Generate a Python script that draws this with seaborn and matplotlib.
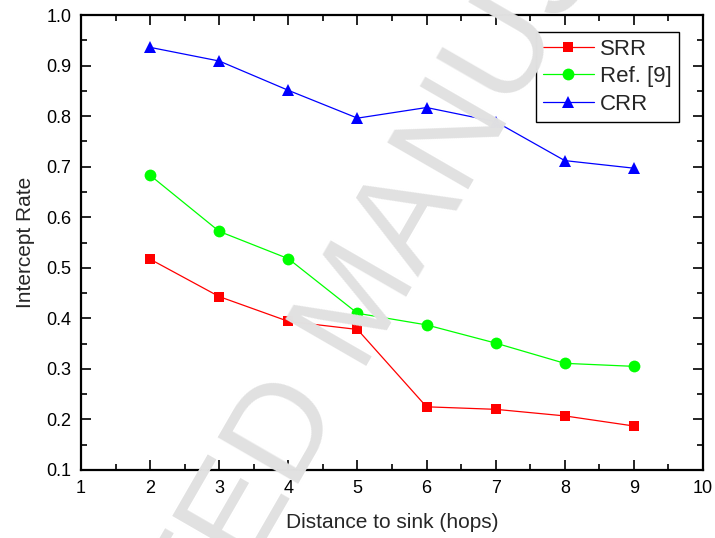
"""
Intercept rate vs. distance to sink for SRR, Ref. [9] and CRR.
"""

import pandas as pd
import matplotlib
matplotlib.use("Agg")
import matplotlib.pyplot as plt
from matplotlib.ticker import MultipleLocator
import seaborn as sns

hops = [2, 3, 4, 5, 6, 7, 8, 9]
srr = [0.517, 0.443, 0.394, 0.378, 0.225, 0.220, 0.207, 0.187]
ref9 = [0.683, 0.572, 0.518, 0.410, 0.387, 0.351, 0.311, 0.305]
crr = [0.936, 0.909, 0.851, 0.796, 0.817, 0.789, 0.712, 0.697]

series_names = ["SRR", "Ref. [9]", "CRR"]
series_values = [srr, ref9, crr]
series_colors = ["#ff0000", "#00ff00", "#0000ff"]
series_markers = ["s", "o", "^"]
series_sizes = [7.5, 8.5, 9.0]

x_ticks = [1, 2, 3, 4, 5, 6, 7, 8, 9, 10]
y_ticks = [0.1, 0.2, 0.3, 0.4, 0.5, 0.6, 0.7, 0.8, 0.9, 1.0]

sns.set_style("ticks")
plt.rcParams["font.family"] = ["Liberation Sans", "DejaVu Sans"]

df = pd.DataFrame({
    "hops": hops * len(series_names),
    "rate": [v for vals in series_values for v in vals],
    "method": [n for n in series_names for _ in hops],
})

fig = plt.figure(figsize=(7.15, 5.38), dpi=100)
ax = fig.add_axes([0.1133, 0.1264, 0.8699, 0.8457])

for name, color, marker, size in zip(series_names, series_colors, series_markers, series_sizes):
    sub = df[df["method"] == name]
    sns.lineplot(
        data=sub, x="hops", y="rate",
        color=color, marker=marker, markersize=size,
        markeredgewidth=0, linewidth=0.9, label=name, ax=ax,
    )

ax.set_xlim(1, 10)
ax.set_ylim(0.1, 1.0)
ax.set_xticks(x_ticks)
ax.set_yticks(y_ticks)
ax.set_xticklabels([str(t) for t in x_ticks])
ax.set_yticklabels([f"{t:.1f}" for t in y_ticks])
ax.xaxis.set_minor_locator(MultipleLocator(0.5))
ax.yaxis.set_minor_locator(MultipleLocator(0.05))
ax.tick_params(which="both", direction="in", top=True, right=True,
               colors="black", width=1.2, labelsize=13)
ax.tick_params(which="major", length=7, pad=7)
ax.tick_params(which="minor", length=4)
for spine in ax.spines.values():
    spine.set_visible(True)
    spine.set_linewidth(1.6)
    spine.set_color("black")

ax.set_xlabel("Distance to sink (hops)", fontsize=15, labelpad=12)
ax.set_ylabel("Intercept Rate", fontsize=15, labelpad=8)

leg = ax.legend(loc="upper right", bbox_to_anchor=(0.961, 0.963),
                borderaxespad=0, fontsize=16, handlelength=2.3,
                handletextpad=0.3, labelspacing=0.3, borderpad=0.3,
                fancybox=False, framealpha=1, edgecolor="black")
leg.get_frame().set_linewidth(1.0)

# watermark from the source pdf (anchored on its baseline centre)
fig.text(392 / 715, 1 - 323 / 538, "ACCEPTED MANUSCRIPT", fontsize=98,
         color="#e1e1e1", rotation=60, rotation_mode="anchor",
         ha="center", va="baseline", zorder=10)

fig.savefig("out.png", dpi=100)
